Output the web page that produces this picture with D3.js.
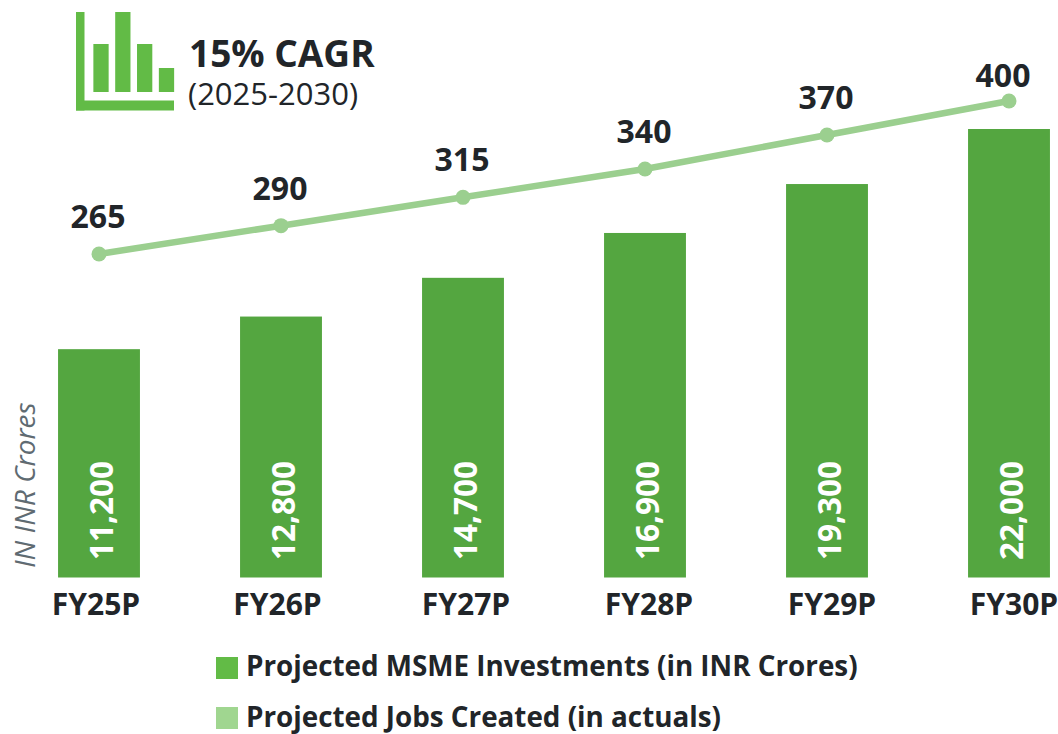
<!DOCTYPE html>
<html><head><meta charset="utf-8">
<script src="https://cdn.jsdelivr.net/npm/d3@7/dist/d3.min.js"></script>
<style>html,body{margin:0;padding:0;background:#fff;overflow:hidden}svg{display:block}text{font-family:"Open Sans","Noto Sans",sans-serif}</style>
</head><body><svg id="c" width="1058" height="734"></svg>
<script>
const categories=["FY25P","FY26P","FY27P","FY28P","FY29P","FY30P"];
const investments=[11200,12800,14700,16900,19300,22000];
const jobs=[265,290,315,340,370,400];
const legendLabels=["Projected MSME Investments (in INR Crores)","Projected Jobs Created (in actuals)"];
const iconBars=[3,5,3,1.5];
const catShift=[-3,-3.5,3,4,5,5];
const jobShiftX=[-1,-1,-1,-1,-1,-6];
const jobShiftY=[-26,-26,-26,-26,-26,-14];
const svg=d3.select("#c");
const dark="#212529",barC="#54A640",lineC="#9BCF8F",iconC="#62BB46";
const x=d3.scaleBand().domain(categories).range([8,1100]).paddingInner(0.55).paddingOuter(0.275);
const y=d3.scaleLinear().domain([0,22000]).range([577.5,129]);
const yL=d3.scaleLinear().domain([265,400]).range([254,101]);
const cx=c=>x(c)+x.bandwidth()/2;

// icon
const ic=svg.append("g");
ic.append("rect").attr("x",76).attr("y",12).attr("width",8.5).attr("height",98.5).attr("fill",iconC);
ic.append("rect").attr("x",76).attr("y",100.5).attr("width",98).attr("height",10).attr("fill",iconC);
const ix=d3.scaleBand().domain(d3.range(iconBars.length)).range([89,178.5]).paddingInner(0.3).paddingOuter(0.2);
const iy=d3.scaleLinear().domain([0,5]).range([92,12]);
ic.selectAll(".ib").data(iconBars).join("rect").attr("x",(d,i)=>ix(i)).attr("width",ix.bandwidth())
  .attr("y",d=>iy(d)).attr("height",d=>92-iy(d)).attr("fill",iconC);
svg.append("text").attr("x",189).attr("y",67).attr("font-size",37).attr("font-weight",700).attr("fill",dark).text("15% CAGR");
svg.append("text").attr("x",188).attr("y",105).attr("font-size",31).attr("fill",dark).text("(2025-2030)");

// bars
svg.selectAll(".bar").data(categories).join("rect").attr("class","bar")
  .attr("x",c=>x(c)).attr("width",x.bandwidth())
  .attr("y",(c,i)=>y(investments[i])).attr("height",(c,i)=>y(0)-y(investments[i])).attr("fill",barC);
svg.selectAll(".bl").data(categories).join("text").attr("class","bl")
  .attr("transform",c=>`translate(${cx(c)+14},560) rotate(-90)`)
  .attr("font-size",31.5).attr("font-weight",700).attr("fill","#fff")
  .text((c,i)=>d3.format(",")(investments[i]));

// line
const line=d3.line().x((d,i)=>cx(categories[i])).y(d=>yL(d));
svg.append("path").attr("d",line(jobs)).attr("fill","none").attr("stroke",lineC).attr("stroke-width",6.5);
svg.selectAll(".pt").data(jobs).join("circle").attr("class","pt")
  .attr("cx",(d,i)=>cx(categories[i])).attr("cy",d=>yL(d)).attr("r",7.5).attr("fill",lineC);
svg.selectAll(".jl").data(jobs).join("text").attr("class","jl")
  .attr("x",(d,i)=>cx(categories[i])+jobShiftX[i]).attr("y",(d,i)=>yL(d)+jobShiftY[i])
  .attr("text-anchor","middle").attr("font-size",32).attr("font-weight",700).attr("fill",dark).text(d=>d);

// axis
svg.selectAll(".cat").data(categories).join("text").attr("class","cat")
  .attr("x",(c,i)=>cx(c)+catShift[i]).attr("y",615).attr("text-anchor","middle")
  .attr("font-size",30).attr("font-weight",700).attr("fill",dark).text(c=>c);
svg.append("text").attr("transform","translate(35,568) rotate(-90)")
  .attr("font-size",28).attr("font-style","italic").attr("fill","#5f6b72").text("IN INR Crores");

// legend
const legendColors=[iconC,"#A0D690"];
const ly=d3.scalePoint().domain(legendLabels).range([668,718]);
svg.selectAll(".lg").data(legendLabels).join("rect").attr("class","lg")
  .attr("x",216).attr("y",d=>ly(d)-11).attr("width",22).attr("height",22).attr("fill",(d,i)=>legendColors[i]);
svg.selectAll(".lt").data(legendLabels).join("text").attr("class","lt")
  .attr("x",246).attr("y",(d,i)=>ly(d)+8+i).attr("font-size",27.8).attr("font-weight",700).attr("fill",dark).text(d=>d);
</script></body></html>
